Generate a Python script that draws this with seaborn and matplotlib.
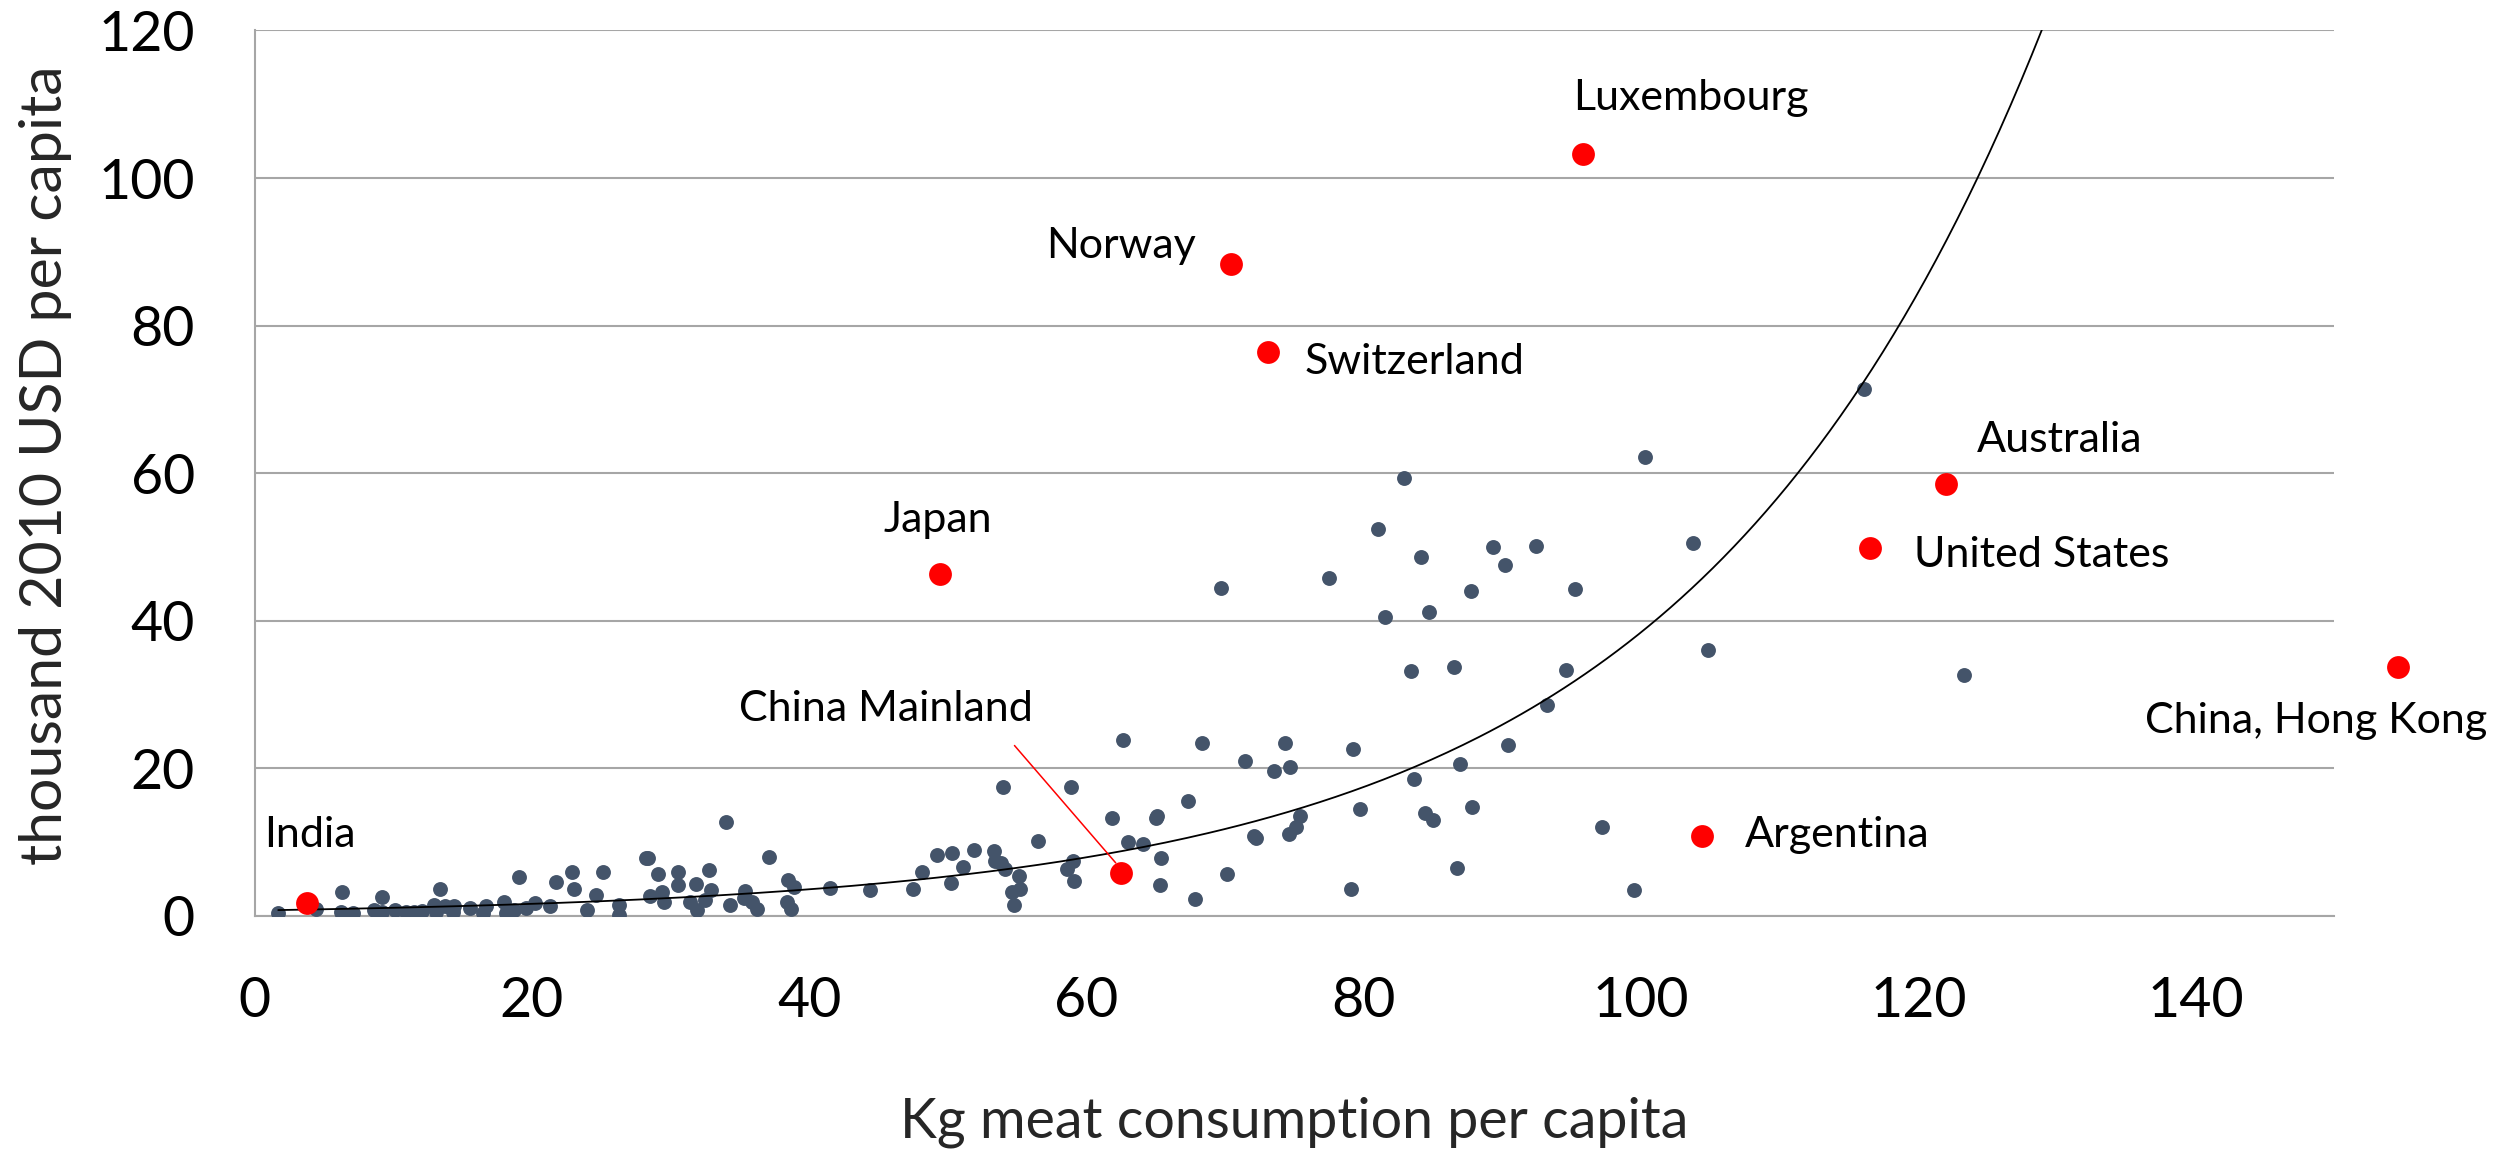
import numpy as np
import pandas as pd
import matplotlib
matplotlib.use('Agg')
import matplotlib.pyplot as plt
import seaborn as sns

# all countries (kg meat per capita, thousand 2010 USD per capita)
meat_kg = [1.7, 4.4, 6.3, 6.2, 7.1, 8.6, 9.2, 9.2, 10.1, 10.9, 11.5, 12.1, 12.9, 13.4, 13.1,
           13.7, 14.3, 14.4, 15.5, 16.5, 16.7, 18.0, 18.1, 18.7, 19.1, 19.6, 20.2, 21.3, 21.7,
           22.9, 23.0, 24.0, 24.6, 25.1, 26.3, 26.3, 28.2, 28.4, 28.5, 29.1, 29.4, 29.5, 30.5,
           30.5, 31.4, 31.8, 31.9,
           32.8, 32.9, 32.5, 34.0, 34.3, 35.4, 35.3, 35.9, 36.2, 37.1, 38.5, 38.9, 38.4, 38.7,
           41.5, 44.4, 47.5, 48.1, 49.2, 50.3, 50.2, 51.1, 51.9, 53.3, 53.4, 53.8, 54.1, 54.0,
           55.1, 55.2, 54.6, 54.8, 56.5, 58.9, 59.0, 58.6, 59.1,
           62.6, 61.8, 63.0, 64.1, 65.1, 65.0, 65.4, 65.3, 67.8, 70.1, 67.3, 68.3, 71.4, 72.1,
           72.2, 73.5, 74.7, 74.3, 74.6, 75.1, 75.4, 79.2, 79.7, 79.1, 83.6, 84.4, 85.0, 86.7,
           86.9, 87.8, 90.4, 93.2, 83.4, 86.5, 94.6, 81.5, 84.7, 69.7, 77.5, 87.7, 95.2, 84.1,
           90.2, 89.3, 92.4, 81.0, 82.9, 97.2,
           100.3, 103.7, 104.8, 123.3, 99.5, 116.1]
gdp_k = [0.4, 0.9, 3.3, 0.5, 0.4, 0.8, 2.6, 0.5, 0.8, 0.6, 0.6, 0.7, 1.5, 3.7, 0.6,
         1.3, 0.6, 1.3, 1.1, 0.4, 1.3, 1.9, 0.4, 0.8, 5.3, 1.1, 1.8, 1.3, 4.6,
         6.0, 3.6, 0.8, 2.8, 5.9, 1.5, 0.2, 7.8, 7.9, 2.7, 5.7, 3.3, 1.9, 6.0,
         4.2, 1.9, 4.4, 0.8,
         6.2, 3.5, 2.2, 12.7, 1.5, 3.4, 2.4, 1.9, 0.9, 8.0, 4.9, 3.9, 1.9, 1.0,
         3.8, 3.5, 3.6, 5.9, 8.3, 8.5, 4.5, 6.7, 8.9, 8.8, 7.4, 7.2, 6.3, 17.5,
         5.4, 3.6, 3.2, 1.5, 10.1, 17.5, 7.4, 6.3, 4.7,
         23.9, 13.3, 10.0, 9.8, 13.5, 13.3, 7.8, 4.2, 2.3, 5.7, 15.6, 23.4, 21.0, 10.8,
         10.5, 19.7, 20.2, 23.4, 11.1, 12.0, 13.6, 22.6, 14.5, 3.7, 18.5, 13.9, 13.0, 6.5,
         20.6, 14.8, 23.2, 28.6, 33.2, 33.8, 33.3, 40.5, 41.2, 44.4, 45.8, 44.1, 44.3, 48.7,
         47.5, 50.0, 50.2, 52.5, 59.4, 12.1,
         62.2, 50.6, 36.1, 32.7, 3.5, 71.4]

# highlighted countries
countries = ['India', 'China Mainland', 'Japan', 'Norway', 'Switzerland', 'Luxembourg',
             'Australia', 'United States', 'Argentina', 'China, Hong Kong']
country_meat = [3.8, 62.5, 49.4, 70.4, 73.1, 95.8, 122.0, 116.5, 104.4, 154.6]
country_gdp = [1.7, 5.8, 46.4, 88.4, 76.4, 103.3, 58.5, 49.9, 10.8, 33.8]

# exponential trendline y = a * exp(b * x)
trend_a = 0.748
trend_b = 0.0394

# label placement (x, y baseline, alignment)
label_pos = {
    'India': (0.7, 9.3, 'left'),
    'China Mainland': (45.5, 26.4, 'center'),
    'Japan': (49.3, 52.0, 'center'),
    'Norway': (67.9, 89.1, 'right'),
    'Switzerland': (75.7, 73.5, 'left'),
    'Luxembourg': (103.6, 109.2, 'center'),
    'Australia': (124.2, 62.9, 'left'),
    'United States': (119.7, 47.3, 'left'),
    'Argentina': (107.5, 9.3, 'left'),
    'China, Hong Kong': (136.3, 24.75, 'left'),
}

df = pd.DataFrame({'meat': meat_kg, 'gdp': gdp_k})
hl = pd.DataFrame({'country': countries, 'meat': country_meat, 'gdp': country_gdp})

sns.set_style('white')
plt.rcParams['font.family'] = ['Lato', 'DejaVu Sans']

grid_col = '#a6a6a6'
fig = plt.figure(figsize=(25.04, 11.49), dpi=100)
ax = fig.add_axes([0.1017, 0.2028, 0.8306, 0.7707])

sns.scatterplot(data=df, x='meat', y='gdp', color='#44546a', s=115, linewidth=0,
                ax=ax, zorder=3)

tx = np.linspace(min(meat_kg), max(country_meat), 400)
trend = pd.DataFrame({'x': tx, 'y': trend_a * np.exp(trend_b * tx)})
sns.lineplot(data=trend, x='x', y='y', color='black', lw=1.3, ax=ax, zorder=4)

sns.scatterplot(data=hl, x='meat', y='gdp', color='#ff0000', s=270, linewidth=0,
                ax=ax, zorder=5, clip_on=False)

# leader line for China Mainland
ax.plot([54.8, 62.1], [23.1, 7.2], color='#ff0000', lw=1.1, zorder=5)

for name in countries:
    lx, ly, ha = label_pos[name]
    ax.text(lx, ly, name, fontsize=31, ha=ha, va='baseline', color='black', zorder=6)

ax.set_xlim(0, 150)
ax.set_ylim(0, 120)
ax.set_xticks(np.arange(0, 141, 20))
ax.set_yticks(np.arange(0, 121, 20))
ax.yaxis.grid(True, color=grid_col, lw=1.5)
ax.xaxis.grid(False)
ax.set_axisbelow(True)
for side in ['top', 'right']:
    ax.spines[side].set_visible(False)
for side in ['left', 'bottom']:
    ax.spines[side].set_color(grid_col)
    ax.spines[side].set_linewidth(1.5)
ax.tick_params(axis='both', direction='out', length=14, width=1.5, color=grid_col,
               labelsize=40, pad=29, labelcolor='black')
ax.set_xlabel('')
ax.set_ylabel('')

fig.text(1294.5 / 2504, 1 - 1137 / 1149, 'Kg meat consumption per capita',
         fontsize=40, ha='center', va='baseline')
fig.text(62 / 2504, 1 - 465 / 1149, 'thousand 2010 USD per capita',
         fontsize=42.5, ha='center', va='baseline', rotation=90, rotation_mode='anchor')

fig.savefig('out.png', dpi=100)
